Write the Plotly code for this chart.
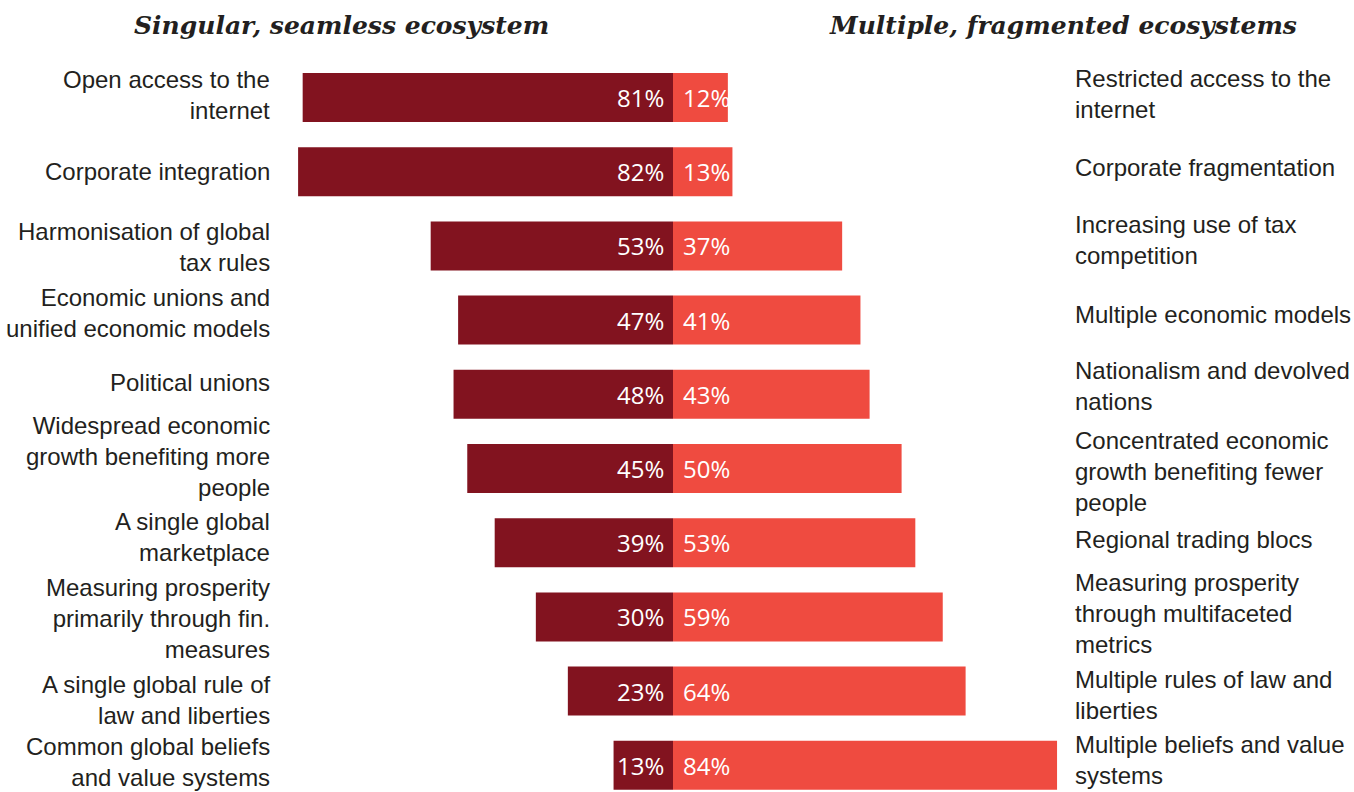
import plotly.graph_objects as go

# Share of respondents choosing each side of the ten paired scenarios
left_labels = [
    "Open access to the<br>internet",
    "Corporate integration",
    "Harmonisation of global<br>tax rules",
    "Economic unions and<br>unified economic models",
    "Political unions",
    "Widespread economic<br>growth benefiting more<br>people",
    "A single global<br>marketplace",
    "Measuring prosperity<br>primarily through fin.<br>measures",
    "A single global rule of<br>law and liberties",
    "Common global beliefs<br>and value systems",
]
right_labels = [
    "Restricted access to the<br>internet",
    "Corporate fragmentation",
    "Increasing use of tax<br>competition",
    "Multiple economic models",
    "Nationalism and devolved<br>nations",
    "Concentrated economic<br>growth benefiting fewer<br>people",
    "Regional trading blocs",
    "Measuring prosperity<br>through multifaceted<br>metrics",
    "Multiple rules of law and<br>liberties",
    "Multiple beliefs and value<br>systems",
]
singular_pct = [81, 82, 53, 47, 48, 45, 39, 30, 23, 13]
multiple_pct = [12, 13, 37, 41, 43, 50, 53, 59, 64, 84]

DARK = "#82131F"
LIGHT = "#EF4B40"
TEXT = "#231F20"
W, H = 1354, 792

rows = list(range(len(left_labels)))

fig = go.Figure()
fig.add_trace(go.Bar(
    y=rows, x=[-v for v in singular_pct], orientation="h",
    marker=dict(color=DARK, line=dict(width=0)), width=0.66,
    hoverinfo="skip", showlegend=False,
))
fig.add_trace(go.Bar(
    y=rows, x=multiple_pct, orientation="h",
    marker=dict(color=LIGHT, line=dict(width=0)), width=0.66,
    hoverinfo="skip", showlegend=False,
))

annotations = []
val_font = dict(family="Open Sans", size=24, color="white")
lab_font = dict(family="Liberation Sans", size=24, color=TEXT)

# small vertical nudges (px, positive = up) for the side labels
left_nudge = [3, 0, -1, 7, 12, 12, 6, -2, -9, 3]
right_nudge = [4, 4, 6, 6, 8, -3, 3, 3, -4, 5]

for i in rows:
    annotations.append(dict(
        x=0, y=i, xref="x", yref="y", text=f"{singular_pct[i]}%",
        showarrow=False, xanchor="right", yanchor="middle", xshift=-7,
        font=val_font,
    ))
    annotations.append(dict(
        x=0, y=i, xref="x", yref="y", text=f"{multiple_pct[i]}%",
        showarrow=False, xanchor="left", yanchor="middle", xshift=8,
        font=val_font,
    ))
    annotations.append(dict(
        x=272 / W, y=i, xref="paper", yref="y", text=left_labels[i],
        showarrow=False, xanchor="right", yanchor="middle", align="right",
        yshift=left_nudge[i], font=lab_font,
    ))
    annotations.append(dict(
        x=1073 / W, y=i, xref="paper", yref="y", text=right_labels[i],
        showarrow=False, xanchor="left", yanchor="middle", align="left",
        yshift=right_nudge[i], font=lab_font,
    ))

title_font = dict(family="DejaVu Serif", size=25, color=TEXT)
annotations.append(dict(
    x=341 / W, y=1 - 25 / H, xref="paper", yref="paper",
    text="<b><i>Singular, seamless ecosystem</i></b>",
    showarrow=False, xanchor="center", yanchor="middle", font=title_font,
))
annotations.append(dict(
    x=1063 / W, y=1 - 25 / H, xref="paper", yref="paper",
    text="<b><i>Multiple, fragmented ecosystems</i></b>",
    showarrow=False, xanchor="center", yanchor="middle", font=title_font,
))

px_per_pct = 4.572
zero_px = 673
row_px = 74.2
first_row_px = 97.5

fig.update_layout(
    width=W, height=H,
    margin=dict(l=0, r=0, t=0, b=0),
    paper_bgcolor="white", plot_bgcolor="white",
    barmode="overlay",
    xaxis=dict(
        range=[-zero_px / px_per_pct, (W - zero_px) / px_per_pct],
        visible=False, fixedrange=True,
    ),
    yaxis=dict(
        range=[9 + (H - (first_row_px + 9 * row_px)) / row_px, -first_row_px / row_px],
        visible=False, fixedrange=True,
    ),
    annotations=annotations,
)

fig.write_html("out.html", config={"displayModeBar": False})
